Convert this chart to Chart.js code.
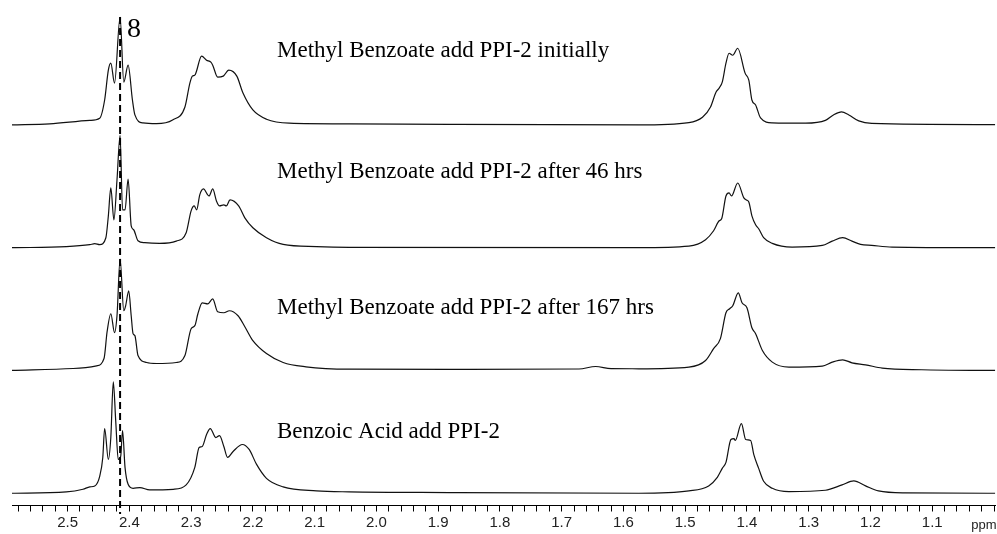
<!DOCTYPE html>
<html lang="en">
<head>
  <meta charset="UTF-8">
  <title>1H NMR stack</title>
  <script src="https://cdn.jsdelivr.net/npm/chart.js"></script>
  <style>
    html, body { margin: 0; padding: 0; background: #fff; }
    .chart-card { width: 997px; height: 534px; position: relative; }
  </style>
</head>
<body>

  <div class="chart-card">
    <canvas id="nmrChart"></canvas>
  </div>

  <script>
    // Trace titles, top to bottom
    const traceNames = [
      'Methyl Benzoate add PPI-2 initially',
      'Methyl Benzoate add PPI-2 after 46 hrs',
      'Methyl Benzoate add PPI-2 after 167 hrs',
      'Benzoic Acid add PPI-2'
    ];

    // chemical shift (ppm) and intensity (a.u.) for each trace
    const ppmInitial = [2.590, 2.529, 2.464, 2.448, 2.440, 2.434, 2.430, 2.424, 2.415, 2.409, 2.402, 2.395, 2.391, 2.378, 2.356, 2.330, 2.310, 2.302, 2.298, 2.294, 2.283, 2.275, 2.268, 2.265, 2.257, 2.248, 2.239, 2.226, 2.216, 2.200, 2.178, 2.141, 2.044, 1.882, 1.575, 1.494, 1.472, 1.459, 1.450, 1.445, 1.440, 1.434, 1.429, 1.423, 1.415, 1.403, 1.397, 1.392, 1.386, 1.378, 1.359, 1.305, 1.273, 1.260, 1.247, 1.235, 1.219, 1.198, 0.998];
    const intInitial = [0, 1, 4.5, 6.7, 25, 55, 62, 42, 108, 43, 60, 25, 10, 2, 1.3, 5, 18, 42, 49, 50, 69, 65, 63, 60, 48, 49, 55, 49, 32, 15, 5.7, 1.7, 1, 0.5, 0, 2.3, 7.7, 18, 33, 37, 43, 62, 72, 70, 77, 52, 45, 25, 20, 7, 2, 1.7, 4.5, 10, 13, 10, 4, 1.5, 0.3];

    const ppm46h = [2.590, 2.502, 2.464, 2.456, 2.448, 2.438, 2.434, 2.430, 2.425, 2.420, 2.415, 2.411, 2.407, 2.402, 2.397, 2.393, 2.386, 2.375, 2.351, 2.324, 2.308, 2.300, 2.295, 2.291, 2.286, 2.280, 2.271, 2.265, 2.259, 2.254, 2.247, 2.243, 2.237, 2.223, 2.213, 2.200, 2.178, 2.151, 2.097, 2.044, 1.575, 1.494, 1.467, 1.454, 1.445, 1.441, 1.434, 1.429, 1.425, 1.415, 1.405, 1.401, 1.397, 1.392, 1.386, 1.381, 1.373, 1.359, 1.327, 1.278, 1.262, 1.245, 1.230, 1.216, 1.198, 1.165, 0.998];
    const int46h = [0, 1, 3, 4, 3, 10, 32, 60, 28, 68, 113, 38, 38, 69, 22, 18, 7, 5, 4.3, 6.6, 15, 37, 42, 38, 53, 59, 52, 59, 47, 42, 43, 42, 48, 42, 30, 20, 10, 3.3, 1, 0.3, 0, 1.6, 8, 17, 27, 29, 52, 55, 52, 65, 50, 48, 46, 32, 23, 19, 10, 4.3, 0.6, 2.3, 6.6, 10, 6.6, 3.3, 2.3, 0.6, 0];

    const ppm167h = [2.590, 2.491, 2.453, 2.441, 2.436, 2.430, 2.424, 2.420, 2.415, 2.409, 2.406, 2.401, 2.397, 2.394, 2.391, 2.386, 2.372, 2.356, 2.324, 2.310, 2.300, 2.294, 2.289, 2.282, 2.273, 2.265, 2.257, 2.247, 2.238, 2.224, 2.213, 2.200, 2.178, 2.151, 2.114, 2.044, 1.882, 1.672, 1.645, 1.620, 1.575, 1.494, 1.467, 1.454, 1.443, 1.434, 1.428, 1.423, 1.414, 1.408, 1.400, 1.392, 1.386, 1.375, 1.359, 1.332, 1.278, 1.262, 1.245, 1.230, 1.208, 1.181, 1.117, 0.998];
    const int167h = [0, 2, 4.7, 12, 39, 57, 38, 55, 112, 60, 65, 80, 55, 37, 35, 15, 8, 7, 8, 15, 42, 45, 57, 68, 67, 72, 59, 58, 60, 55, 44, 30, 17, 8, 3.7, 1.3, 1, 1.5, 4, 1.8, 1.7, 3.4, 10, 22, 32, 58, 62, 65, 78, 68, 63, 43, 37, 20, 8.4, 3.4, 4.4, 8.4, 10.7, 7.7, 5.7, 2.4, 0.7, 0];

    const ppmAcid = [2.590, 2.502, 2.475, 2.464, 2.456, 2.448, 2.443, 2.440, 2.434, 2.430, 2.426, 2.422, 2.418, 2.414, 2.411, 2.407, 2.402, 2.394, 2.383, 2.367, 2.329, 2.308, 2.294, 2.287, 2.282, 2.275, 2.269, 2.260, 2.254, 2.247, 2.241, 2.232, 2.217, 2.206, 2.194, 2.178, 2.151, 2.097, 2.044, 1.882, 1.575, 1.494, 1.462, 1.448, 1.440, 1.434, 1.426, 1.421, 1.419, 1.409, 1.402, 1.394, 1.389, 1.381, 1.373, 1.359, 1.332, 1.273, 1.246, 1.227, 1.208, 1.187, 1.144, 0.998];
    const intAcid = [0, 1.3, 4, 6.4, 7.3, 17, 36, 65, 34, 56, 112, 72, 34, 37, 63, 26, 9, 5, 5.7, 3.4, 4, 8.4, 26, 46, 47, 59, 65, 56, 58, 47, 36, 42, 49, 44, 29, 15, 6.4, 2.4, 1.4, 0.7, 0, 2.4, 7.4, 16, 25, 31, 54, 55, 53, 70, 54, 53, 39, 25, 12, 5, 1.7, 3, 8.4, 12.4, 7.4, 2.4, 0.4, 0];

    const tracePpm = [ppmInitial, ppm46h, ppm167h, ppmAcid];
    const traceInt = [intInitial, int46h, int167h, intAcid];

    // marked resonance (dashed guide) and its number
    const markPpm = 2.415;
    const markLabel = '8';

    // vertical spacing of the stacked traces, bottom trace first
    const baseOffset = 12.3;
    const stackStep = 123.4;

    const datasets = tracePpm.map((ppm, i) => {
      const offset = baseOffset + (tracePpm.length - 1 - i) * stackStep;
      return {
        label: traceNames[i],
        data: ppm.map((p, j) => ({ x: p, y: traceInt[i][j] + offset })),
        borderColor: '#111',
        borderWidth: 1.2,
        pointRadius: 0,
        fill: false,
        cubicInterpolationMode: 'monotone'
      };
    });

    const decorations = {
      id: 'decorations',
      afterDatasetsDraw(chart) {
        const ctx = chart.ctx;
        const x = chart.scales.x.getPixelForValue(markPpm);
        ctx.save();
        ctx.strokeStyle = '#000';
        ctx.lineWidth = 2;
        ctx.setLineDash([7, 4]);
        ctx.beginPath();
        ctx.moveTo(x, 17);
        ctx.lineTo(x, 514);
        ctx.stroke();
        ctx.restore();
      },
      afterDraw(chart) {
        const ctx = chart.ctx;
        ctx.save();
        ctx.fillStyle = '#000';
        ctx.textBaseline = 'alphabetic';
        ctx.textAlign = 'left';
        ctx.font = '23px "Liberation Serif", "Times New Roman", serif';
        const textY = [57, 178, 314, 438];
        traceNames.forEach((t, i) => ctx.fillText(t, 277, textY[i]));
        ctx.font = '28px "Liberation Serif", "Times New Roman", serif';
        ctx.fillText(markLabel, chart.scales.x.getPixelForValue(markPpm) + 7, 37);
        ctx.font = '13px "Liberation Sans Narrow", "Liberation Sans", sans-serif';
        ctx.fillStyle = '#222';
        ctx.textAlign = 'center';
        ctx.fillText('ppm', 984, 529);
        ctx.restore();
      }
    };

    document.addEventListener('DOMContentLoaded', function () {
      const ctx = document.getElementById('nmrChart').getContext('2d');
      new Chart(ctx, {
        type: 'line',
        data: { datasets: datasets },
        options: {
          responsive: true,
          maintainAspectRatio: false,
          animation: false,
          layout: { padding: { left: 12, right: 0, top: 0, bottom: 0 } },
          plugins: {
            legend: { display: false },
            tooltip: { enabled: false }
          },
          scales: {
            x: {
              type: 'linear',
              reverse: true,
              min: 0.998,
              max: 2.59,
              border: { display: true, color: '#000', width: 1 },
              grid: { drawOnChartArea: false, drawTicks: true, tickLength: 6, color: '#000' },
              ticks: {
                stepSize: 0.02,
                autoSkip: false,
                maxRotation: 0,
                includeBounds: false,
                padding: 3,
                color: '#222',
                font: { family: '"Liberation Sans Narrow", "Liberation Sans", sans-serif', size: 15, lineHeight: 1.1 },
                callback: function (v) {
                  const t = Math.round(v * 100);
                  return (t % 10 === 0 && t > 100) ? (t / 100).toFixed(1) : '';
                }
              }
            },
            y: {
              display: false,
              min: 0,
              max: 508
            }
          }
        },
        plugins: [decorations]
      });
    });
  </script>

</body>
</html>
